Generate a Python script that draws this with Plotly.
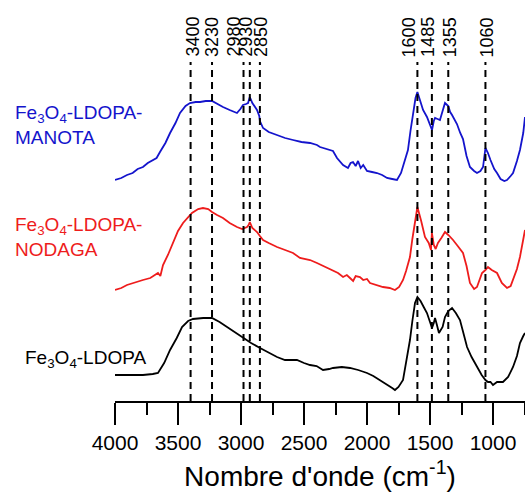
import plotly.graph_objects as go

# Wavenumbers (cm^-1) and offset intensities (a.u.)
blue_x = [4000, 3950, 3905, 3860, 3820, 3778, 3740, 3698, 3670, 3643, 3600, 3563, 3520, 3484, 3440, 3405,
          3360, 3325, 3280, 3230, 3190, 3143, 3090, 3032, 3005, 2984, 2960, 2944, 2930, 2910, 2873, 2855,
          2850, 2825, 2780, 2714, 2650, 2587, 2520, 2452, 2397, 2373, 2317, 2270, 2238, 2190, 2151, 2130,
          2111, 2090, 2071, 2050, 2030, 2000, 1960, 1921, 1880, 1841, 1800, 1762, 1730, 1714, 1690, 1675,
          1655, 1635, 1615, 1600, 1575, 1555, 1524, 1500, 1484, 1470, 1460, 1440, 1421, 1400, 1381, 1355,
          1340, 1325, 1300, 1286, 1260, 1238, 1210, 1183, 1150, 1127, 1100, 1079, 1060, 1040, 1020, 990,
          968, 940, 910, 889, 860, 841, 810, 786, 760, 746]
blue_y = [221, 223, 226, 228, 232, 234, 238, 241, 243, 249, 258, 268, 278, 288, 295, 298,
          299, 299, 300, 300, 297, 294, 291, 288, 292, 296, 297, 298, 304, 298, 291, 285,
          280, 273, 269, 266, 263, 261, 259, 258, 256, 254, 252, 250, 243, 236, 233, 238,
          239, 235, 240, 233, 236, 230, 229, 228, 226, 223, 222, 221, 228, 234, 243, 251,
          270, 288, 303, 309, 300, 291, 284, 275, 271, 280, 283, 282, 281, 290, 298, 295,
          289, 286, 281, 277, 268, 262, 245, 234, 230, 228, 230, 234, 253, 248, 241, 232,
          228, 222, 220, 221, 225, 228, 240, 251, 268, 284]

red_x = [4000, 3950, 3905, 3860, 3820, 3778, 3720, 3680, 3659, 3640, 3619, 3580, 3540, 3500, 3460, 3420,
         3389, 3340, 3302, 3260, 3230, 3190, 3143, 3090, 3032, 2990, 2952, 2940, 2930, 2910, 2873, 2850,
         2825, 2780, 2714, 2650, 2587, 2532, 2452, 2397, 2330, 2270, 2230, 2190, 2160, 2135, 2110, 2090,
         2056, 2030, 2000, 1976, 1920, 1873, 1820, 1778, 1745, 1714, 1690, 1659, 1640, 1619, 1600, 1570,
         1540, 1510, 1492, 1485, 1470, 1455, 1437, 1410, 1381, 1355, 1317, 1280, 1238, 1210, 1183, 1150,
         1127, 1110, 1087, 1060, 1040, 1010, 968, 930, 889, 860, 841, 810, 786, 760, 746]
red_y = [111, 113, 116, 118, 119, 121, 123, 126, 128, 125, 136, 146, 158, 170, 178, 184,
         188, 192, 193, 192, 189, 186, 183, 178, 174, 172, 174, 176, 179, 173, 169, 165,
         161, 158, 154, 151, 148, 143, 141, 138, 134, 131, 128, 124, 126, 123, 120, 125,
         124, 121, 122, 118, 116, 114, 113, 111, 114, 121, 130, 144, 162, 181, 194, 180,
         164, 158, 151, 168, 156, 152, 158, 163, 169, 166, 161, 155, 148, 135, 118, 112,
         114, 120, 128, 131, 134, 131, 128, 118, 113, 115, 121, 132, 144, 160, 171]

black_x = [4000, 3900, 3778, 3700, 3659, 3610, 3563, 3510, 3468, 3420, 3381, 3300, 3230, 3170, 3111, 3050,
           2984, 2920, 2849, 2780, 2714, 2651, 2600, 2556, 2500, 2452, 2400, 2373, 2349, 2300, 2270, 2200,
           2135, 2070, 2000, 1950, 1897, 1840, 1800, 1778, 1750, 1714, 1690, 1659, 1640, 1619, 1600, 1575,
           1550, 1524, 1500, 1484, 1470, 1460, 1445, 1429, 1400, 1381, 1355, 1325, 1295, 1262, 1235, 1206,
           1170, 1127, 1090, 1060, 1040, 1020, 1000, 968, 921, 880, 841, 810, 786, 760, 746]
black_y = [26, 26, 26, 27, 28, 38, 51, 63, 74, 80, 82, 83, 83, 79, 74, 69,
           64, 58, 53, 48, 44, 41, 41, 41, 38, 36, 35, 33, 31, 32, 33, 34,
           33, 31, 28, 25, 21, 16, 13, 11, 14, 21, 38, 61, 80, 98, 104, 100,
           94, 88, 79, 73, 78, 83, 76, 68, 74, 84, 90, 93, 88, 81, 68, 54,
           44, 34, 26, 21, 19, 19, 16, 19, 19, 24, 34, 45, 58, 65, 68]

peak_positions = [3400, 3230, 2980, 2930, 2850, 1600, 1485, 1355, 1060]
peak_labels = ["3400", "3230", "2980", "2930", "2850", "1600", "1485", "1355", "1060"]
label_shift = [2, 0, -10, -4, 1, -8, -4, 2, 2]

series_names = ["Fe<sub>3</sub>O<sub>4</sub>-LDOPA-<br>MANOTA",
                "Fe<sub>3</sub>O<sub>4</sub>-LDOPA-<br>NODAGA",
                "Fe<sub>3</sub>O<sub>4</sub>-LDOPA"]
series_colors = ["#1414cc", "#ee1c1c", "#000000"]

x_ticks = [4000, 3500, 3000, 2500, 2000, 1500, 1000]

FONT = "Arial, Liberation Sans, sans-serif"

W, H = 525, 497
L, B = 115, 96
plot_w = W - L

fig = go.Figure()
for xs, ys, name, col in zip([blue_x, red_x, black_x], [blue_y, red_y, black_y], series_names, series_colors):
    fig.add_trace(go.Scatter(x=xs, y=ys, mode="lines", name=name,
                             line=dict(color=col, width=1.8), showlegend=False))

for pos in peak_positions:
    fig.add_shape(type="line", xref="x", yref="y", x0=pos, x1=pos, y0=0, y1=339,
                  line=dict(color="black", width=2, dash="7px,5px"))

for pos, lab, sh in zip(peak_positions, peak_labels, label_shift):
    fig.add_annotation(x=pos, y=364, xref="x", yref="y", text=lab, textangle=-90,
                       showarrow=False, xshift=sh, font=dict(family=FONT, size=18, color="black"))

# series labels on the left (pixel positions of left edge / vertical centre)
label_pos = [(13, 125), (13, 237), (23, 359)]
for (px, py), name, col in zip(label_pos, series_names, series_colors):
    fig.add_annotation(x=(px - L) / plot_w, y=401 - py, xref="paper", yref="y", text=name,
                       showarrow=False, xanchor="left", yanchor="middle", align="left",
                       font=dict(family=FONT, size=19, color=col))

fig.update_layout(
    width=W, height=H,
    margin=dict(l=L, r=0, t=0, b=B, autoexpand=False),
    plot_bgcolor="white", paper_bgcolor="white",
    hovermode=False,
    xaxis=dict(range=[4000, 746], tickvals=x_ticks, ticktext=[str(v) for v in x_ticks],
               ticks="outside", ticklen=22, tickwidth=2, tickcolor="black",
               showline=True, linecolor="black", linewidth=2, showgrid=False, zeroline=False,
               tickfont=dict(family=FONT, size=21, color="black"), automargin=False,
               minor=dict(dtick=250, tick0=0, ticks="outside", ticklen=12, tickwidth=2,
                          tickcolor="black", showgrid=False),
               title=dict(text="Nombre d'onde (cm<sup>-1</sup>)", standoff=13,
                          font=dict(family=FONT, size=28, color="black"))),
    yaxis=dict(range=[0, 401], visible=False, showgrid=False, zeroline=False),
)

fig.write_html("out.html", config={"responsive": False, "displayModeBar": False},
               post_script="document.body.style.margin='0';document.body.style.overflow='hidden';")
